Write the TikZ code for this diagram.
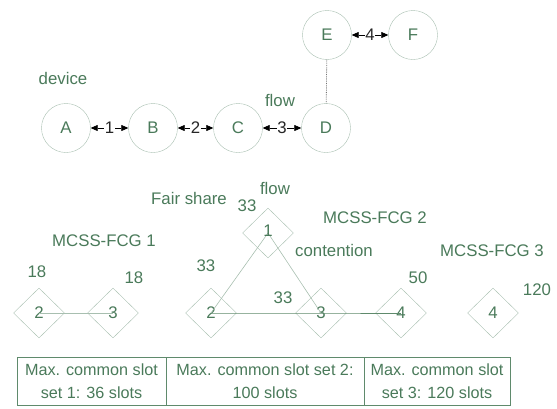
\documentclass[tikz,border=0pt]{standalone}
\usepackage{fontspec}
\setmainfont{Liberation Sans}
\usetikzlibrary{shapes.geometric,arrows.meta}
\definecolor{txt}{HTML}{4A7A5A}
\definecolor{ln}{HTML}{A8BFB0}
\definecolor{dk}{HTML}{5F8A6C}
\begin{document}
\begin{tikzpicture}[x=1pt,y=-1pt,
  every node/.style={font=\fontsize{16.8}{20}\selectfont, text=txt},
  dev/.style={circle, draw=ln, minimum size=49pt, inner sep=0pt},
  dia/.style={diamond, draw=ln, minimum width=51pt, minimum height=50pt, inner sep=0pt},
  lab/.style={inner sep=1pt},
  link/.style={<->, >={Triangle[length=7pt,width=6pt]}, black, line width=0.6pt},
  num/.style={fill=white, inner sep=0.5pt, text=black!85, font=\fontsize{16.8}{19}\selectfont},
  lite/.style={draw=ln, line width=0.6pt},
  dark/.style={draw=dk, line width=0.8pt},
  cell/.style={draw=dk, line width=0.8pt},
  celltxt/.style={align=center, font=\fontsize{16.2}{22.5}\selectfont}]
\useasboundingbox (0,0) rectangle (557,408);
% top graph
\node[dev] (A) at (66,128) {A};
\node[dev] (B) at (153,128) {B};
\node[dev] (C) at (238,128) {C};
\node[dev] (D) at (326,128) {D};
\node[dev] (E) at (327,35) {E};
\node[dev] (F) at (413,35) {F};
\draw[link] (A) -- node[num] {1} (B);
\draw[link] (B) -- node[num] {2} (C);
\draw[link] (C) -- node[num] {3} (D);
\draw[link] (E) -- node[num] {4} (F);
\draw[densely dotted, black!55, line width=0.8pt] (E) -- (D);
\node[lab] (device) at (63,78) {device};
\node[lab] (flow1) at (280,100) {flow};
% lower graphs
\node[dia] (g1a) at (39,313) {2};
\node[dia] (g1b) at (113,313) {3};
\node[dia] (g2a) at (268,233) {};
\node[dia] (g2b) at (211,313) {2};
\node[dia] (g2c) at (321,313) {3};
\node[dia] (g2d) at (401,313) {4};
\node[dia] (g3a) at (493,313) {4};
\draw[lite] (g1a.center) -- (g1b.center);
\draw[lite] (g2a.center) -- (g2b.center);
\draw[lite] (g2a.center) -- (g2c.center);
\draw[dark] (g2b.center) -- (g2c.center) -- (g2d.center);
\node at (268,231) {1};
\node[lab] (fair) at (189,198) {Fair share};
\node[lab] (flow2) at (275,188) {flow};
\node[lab] (n33a) at (247,206) {33};
\node[lab] (fcg2) at (375,218) {MCSS-FCG 2};
\node[lab] (fcg1) at (104,241) {MCSS-FCG 1};
\node[lab] (cont) at (334,250) {contention};
\node[lab] (fcg3) at (492,251) {MCSS-FCG 3};
\node[lab] (n18a) at (37,272) {18};
\node[lab] (n18b) at (134,278) {18};
\node[lab] (n33b) at (206,266) {33};
\node[lab] (n33c) at (283,298) {33};
\node[lab] (n50) at (418,278) {50};
\node[lab] (n120) at (537,290) {120};
% table
\draw[cell] (17,357) rectangle (510,405);
\draw[cell] (166,357) -- (166,405);
\draw[cell] (364,357) -- (364,405);
\node[celltxt] (t1) at (91.5,381) {Max. common slot\\set 1: 36 slots};
\node[celltxt] (t2) at (265,381) {Max. common slot set 2:\\100 slots};
\node[celltxt] (t3) at (437,381) {Max. common slot\\set 3: 120 slots};
\end{tikzpicture}
\end{document}
